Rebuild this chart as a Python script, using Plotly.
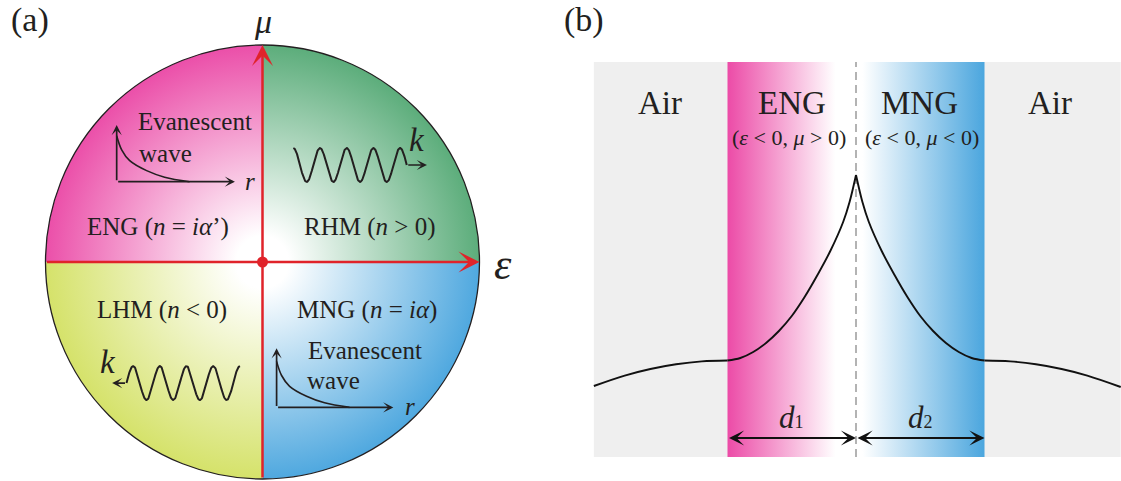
import numpy as np
import plotly.graph_objects as go

# ---------------- data ----------------
# Panel (a): quadrants of the (epsilon, mu) plane on a unit circle
quad_angles = [(90, 180), (0, 90), (180, 270), (270, 360)]
quad_colors = ["#EB4FA9", "#5CAD7B", "#D5E26A", "#4FA8DF"]
quad_labels = ["ENG (<i>n</i> = <i>iα</i>’)", "RHM (<i>n</i> > 0)",
               "LHM (<i>n</i> < 0)", "MNG (<i>n</i> = <i>iα</i>)"]
quad_label_x = [-0.482, 0.495, -0.463, 0.482]
quad_label_y = [0.161, 0.161, -0.221, -0.221]

# evanescent-wave glyphs (origin, axis tips) and decay curve (offsets, in radius units)
ev_origin_x = [-0.672, 0.065]
ev_origin_y = [0.370, -0.670]
ev_vtip_y = [0.631, -0.398]
ev_htip_x = [-0.127, 0.603]
decay_dx = [0.0, 0.023, 0.060, 0.138, 0.221, 0.336]
decay_dy = [0.212, 0.147, 0.097, 0.051, 0.021, 0.0]
ev_text_x = [-0.311, 0.472]
ev_text_y = [0.647, -0.406]
wave_text_x = [-0.449, 0.325]
wave_text_y = [0.502, -0.544]
r_x = [-0.090, 0.647]
r_y = [0.370, -0.668]

# propagating-wave glyphs: start x, direction, midline, amplitude, period, arrow tip
wave_start_x = [0.142, -0.104]
wave_dir = [1, -1]
wave_mid_y = [0.447, -0.558]
wave_amp = 0.078
wave_period = 0.123
wave_cycles = 4.25
wave_tip_x = [0.758, -0.693]
k_x = [0.712, -0.712]
k_y = [0.562, -0.461]

# Panel (b): field profile (x in units of d1, interface at 0)
air_left_x = [-2.04, -1.8, -1.6, -1.4, -1.2, -1.0]
air_left_y = [0.71, 0.814, 0.88, 0.927, 0.956, 0.965]
eng_x = [-1.0, -0.9, -0.8, -0.7, -0.6, -0.5, -0.4, -0.3, -0.2, -0.1, -0.05, 0.0]
eng_y = [0.965, 0.99, 1.05, 1.14, 1.26, 1.41, 1.60, 1.82, 2.06, 2.35, 2.55, 2.82]
mng_x = [0.0, 0.05, 0.1, 0.2, 0.3, 0.4, 0.5, 0.6, 0.7, 0.8, 0.9, 1.0]
mng_y = [2.82, 2.55, 2.35, 2.06, 1.82, 1.60, 1.41, 1.26, 1.14, 1.05, 0.99, 0.965]
air_right_x = [1.0, 1.2, 1.4, 1.6, 1.8, 2.06]
air_right_y = [0.965, 0.956, 0.927, 0.88, 0.814, 0.70]

layer_x0 = [-2.04, -1.0, 0.0, 1.0]
layer_x1 = [-1.0, 0.0, 1.0, 2.06]
layer_top = 3.95
region_names = ["Air", "ENG", "MNG", "Air"]
region_x = [-1.525, -0.498, 0.498, 1.51]
sub_labels = ["(<i>ε</i> < 0, <i>μ</i> > 0)", "(<i>ε</i> < 0, <i>μ</i> < 0)"]
sub_x = [-0.52, 0.51]

TXT = "#231F20"
SERIF = "Liberation Serif, Times New Roman, serif"
RED = "#E0232A"
PINK = "#EC4BA7"
BLUE = "#4BA6DE"
GRAY = "#EFEFEF"

fig = go.Figure()

# ---------- panel (a) ----------
for (a0, a1), col in zip(quad_angles, quad_colors):
    t = np.radians(np.linspace(a0, a1, 120))
    # zero-area spikes along the axes make the fill's bounding box the full circle,
    # so the radial gradient is centred on the origin
    px = [0, 1, 0, -1, 0, 0, 0, 0, 0] + list(np.cos(t)) + [0]
    py = [0, 0, 0, 0, 0, 1, 0, -1, 0] + list(np.sin(t)) + [0]
    fig.add_trace(go.Scatter(
        x=px, y=py, mode="lines", fill="toself", line=dict(width=0, color=col),
        fillgradient=dict(type="radial",
                          colorscale=[[0, "#FFFFFF"], [0.12, "#FFFFFF"], [1, col]]),
        hoverinfo="skip", xaxis="x", yaxis="y"))

fig.add_shape(type="circle", xref="x", yref="y", x0=-1, x1=1, y0=-1, y1=1,
              line=dict(color=TXT, width=1.3))

# decay curves
for ox, oy in zip(ev_origin_x, ev_origin_y):
    fig.add_trace(go.Scatter(
        x=[ox + d for d in decay_dx], y=[oy + d for d in decay_dy],
        mode="lines", line=dict(color=TXT, width=1.6, shape="spline"),
        hoverinfo="skip", xaxis="x", yaxis="y"))

# propagating waves
for x0, dr, my, tip in zip(wave_start_x, wave_dir, wave_mid_y, wave_tip_x):
    s = np.linspace(0, wave_cycles, 300)
    wx = x0 + dr * s * wave_period
    wy = my + wave_amp * np.cos(2 * np.pi * s)
    fig.add_trace(go.Scatter(x=wx, y=wy, mode="lines",
                             line=dict(color=TXT, width=2.0),
                             hoverinfo="skip", xaxis="x", yaxis="y"))
    fig.add_annotation(x=tip, y=my, ax=wx[-1], ay=my, xref="x", yref="y",
                       axref="x", ayref="y", text="", showarrow=True,
                       arrowhead=3, arrowsize=1.0, arrowwidth=1.7, arrowcolor=TXT)

# centre dot
fig.add_trace(go.Scatter(x=[0], y=[0], mode="markers",
                         marker=dict(color=RED, size=11), hoverinfo="skip",
                         xaxis="x", yaxis="y"))

# red axes
fig.add_annotation(x=0, y=1, ax=0, ay=-1, xref="x", yref="y", axref="x", ayref="y",
                   text="", showarrow=True, arrowhead=3, arrowsize=1.4,
                   arrowwidth=2.5, arrowcolor=RED)
fig.add_annotation(x=1, y=0, ax=-1, ay=0, xref="x", yref="y", axref="x", ayref="y",
                   text="", showarrow=True, arrowhead=3, arrowsize=1.4,
                   arrowwidth=2.5, arrowcolor=RED)

# glyph axes
for ox, oy, vt, ht in zip(ev_origin_x, ev_origin_y, ev_vtip_y, ev_htip_x):
    for (tx, ty) in [(ox, vt), (ht, oy)]:
        fig.add_annotation(x=tx, y=ty, ax=ox, ay=oy, xref="x", yref="y",
                           axref="x", ayref="y", text="", showarrow=True,
                           arrowhead=3, arrowsize=1.0, arrowwidth=1.7,
                           arrowcolor=TXT)

def txt(x, y, s, size, ref=("x", "y"), xanchor="center", yanchor="middle",
        family=SERIF):
    fig.add_annotation(x=x, y=y, xref=ref[0], yref=ref[1], text=s, showarrow=False,
                       font=dict(family=family, size=size, color=TXT),
                       xanchor=xanchor, yanchor=yanchor)

for s, x, y in zip(quad_labels, quad_label_x, quad_label_y):
    txt(x, y, s, 25)
for x, y in zip(ev_text_x, ev_text_y):
    txt(x, y, "Evanescent", 25)
for x, y in zip(wave_text_x, wave_text_y):
    txt(x, y, "wave", 25)
for x, y in zip(r_x, r_y):
    txt(x, y, "<i>r</i>", 25, xanchor="left")
for x, y in zip(k_x, k_y):
    txt(x, y, "<i>k</i>", 33)
txt(0.0, 1.110, "<i>μ</i>", 34)
txt(1.108, -0.01, "<i>ε</i>", 44)

# ---------- panel (b) ----------
fig.add_trace(go.Scatter(
    x=[layer_x0[0], layer_x1[-1], layer_x1[-1], layer_x0[0], layer_x0[0]],
    y=[0, 0, layer_top, layer_top, 0], mode="lines", fill="toself",
    fillcolor=GRAY, line=dict(width=0), hoverinfo="skip", xaxis="x2", yaxis="y2"))

band_scales = [[[0, PINK], [0.84, "#FFFFFF"], [1, "#FFFFFF"]],
               [[0, "#FFFFFF"], [0.05, "#FFFFFF"], [1, BLUE]]]
for i, cs in zip([1, 2], band_scales):
    a, b = layer_x0[i], layer_x1[i]
    fig.add_trace(go.Scatter(
        x=[a, b, b, a, a], y=[0, 0, layer_top, layer_top, 0], mode="lines",
        fill="toself", line=dict(width=0),
        fillgradient=dict(type="horizontal", colorscale=cs, start=a, stop=b),
        hoverinfo="skip", xaxis="x2", yaxis="y2"))

fig.add_trace(go.Scatter(x=[0, 0], y=[0, layer_top], mode="lines",
                         line=dict(color="#9A9A9A", width=1.5, dash="8px,5px"),
                         hoverinfo="skip", xaxis="x2", yaxis="y2"))

for xs, ys in [(air_left_x, air_left_y), (eng_x, eng_y), (mng_x, mng_y),
               (air_right_x, air_right_y)]:
    fig.add_trace(go.Scatter(x=xs, y=ys, mode="lines",
                             line=dict(color="#111111", width=1.9, shape="spline",
                                       smoothing=1.0),
                             hoverinfo="skip", xaxis="x2", yaxis="y2"))

for a, b in [(-1.0, 0.0), (0.0, 1.0)]:
    fig.add_annotation(x=b, y=0.19, ax=a, ay=0.19, xref="x2", yref="y2",
                       axref="x2", ayref="y2", text="", showarrow=True,
                       arrowside="end+start", arrowhead=3, startarrowhead=3,
                       arrowsize=1.4, startarrowsize=1.4, arrowwidth=1.8,
                       arrowcolor="#111111")

for s, x in zip(region_names, region_x):
    txt(x, 3.54, s, 33, ref=("x2", "y2"))
for s, x in zip(sub_labels, sub_x):
    txt(x, 3.20, s, 22, ref=("x2", "y2"))
sub_style = "<span style='font-size:18px'>{}</span>"
txt(-0.5, 0.40, "<i>d</i>" + sub_style.format("1"), 31, ref=("x2", "y2"))
txt(0.5, 0.40, "<i>d</i>" + sub_style.format("2"), 31, ref=("x2", "y2"))

# panel labels
txt(30 / 1121, 1 - 20 / 481, "(a)", 34, ref=("paper", "paper"))
txt(584 / 1121, 1 - 20 / 481, "(b)", 34, ref=("paper", "paper"))

ax_hidden = dict(visible=False, showgrid=False, zeroline=False, fixedrange=True)
fig.update_layout(
    width=1121, height=481, margin=dict(l=0, r=0, t=0, b=0),
    paper_bgcolor="white", plot_bgcolor="rgba(0,0,0,0)", showlegend=False,
    xaxis=dict(domain=[0, 560 / 1121], range=[-1.2097, 1.3710], **ax_hidden),
    yaxis=dict(domain=[0, 1], range=[-1.0092, 1.2074], anchor="x", **ax_hidden),
    xaxis2=dict(domain=[560 / 1121, 1], range=[-2.3035, 2.0623], anchor="y2",
                **ax_hidden),
    yaxis2=dict(domain=[0, 1], range=[-0.24, 4.57], anchor="x2", **ax_hidden),
)

fig.write_html("out.html")
